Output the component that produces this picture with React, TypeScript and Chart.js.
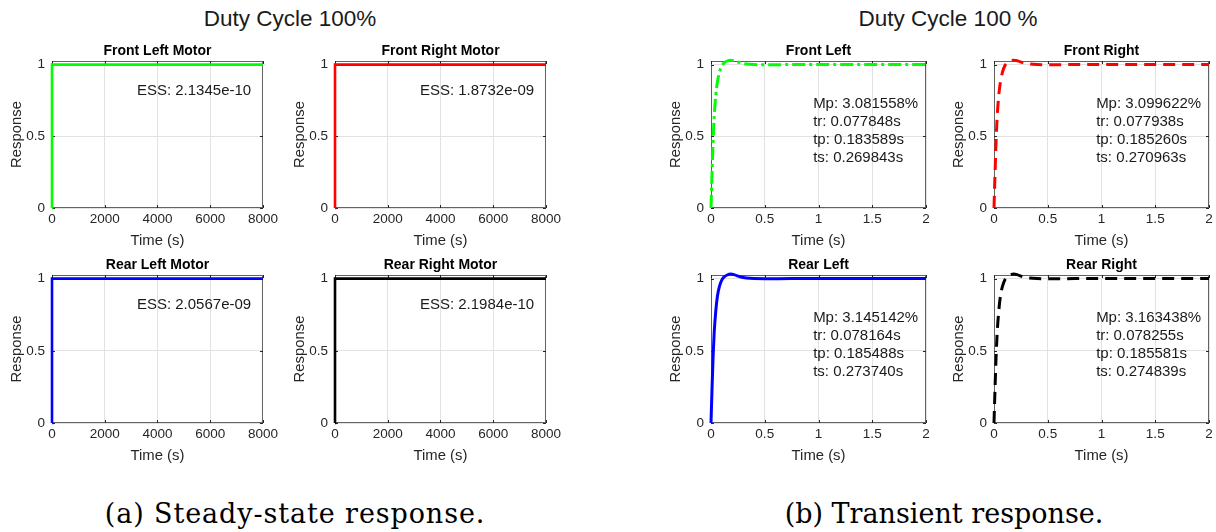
import React, { useEffect, useRef } from "react";
import { Chart, registerables } from "chart.js";
Chart.register(...registerables);

// ---------- data ----------
const steadyTime = [0, 0.3, 8000];
const steadyFrontLeft = [0, 1, 1];
const steadyFrontRight = [0, 1, 1];
const steadyRearLeft = [0, 1, 1];
const steadyRearRight = [0, 1, 1];

const transientTime = [0, 0.01, 0.02, 0.03, 0.045, 0.06, 0.08, 0.1, 0.12, 0.15, 0.185, 0.22, 0.27, 0.33, 0.4, 0.5, 0.75, 1, 1.5, 2];
const transientFrontLeft = [0, 0.25, 0.48, 0.64, 0.79, 0.88, 0.95, 0.99, 1.01, 1.025, 1.031, 1.026, 1.013, 1.004, 1.0, 0.999, 1.0, 1.0, 1.0, 1.0];
const transientFrontRight = [0, 0.25, 0.48, 0.64, 0.79, 0.88, 0.95, 0.99, 1.01, 1.025, 1.031, 1.026, 1.013, 1.004, 1.0, 0.999, 1.0, 1.0, 1.0, 1.0];
const transientRearLeft = [0, 0.25, 0.47, 0.63, 0.78, 0.88, 0.95, 0.99, 1.01, 1.025, 1.0315, 1.026, 1.013, 1.004, 1.0, 0.999, 1.0, 1.0, 1.0, 1.0];
const transientRearRight = [0, 0.25, 0.47, 0.63, 0.78, 0.88, 0.95, 0.99, 1.01, 1.025, 1.0316, 1.026, 1.013, 1.004, 1.0, 0.999, 1.0, 1.0, 1.0, 1.0];

const steadyTicksX = [0, 2000, 4000, 6000, 8000];
const transientTicksX = [0, 0.5, 1, 1.5, 2];
const responseTicksY = [0, 0.5, 1];

const steadyTitles = ["Front Left Motor", "Front Right Motor", "Rear Left Motor", "Rear Right Motor"];
const transientTitles = ["Front Left", "Front Right", "Rear Left", "Rear Right"];
const essLabels = ["ESS: 2.1345e-10", "ESS: 1.8732e-09", "ESS: 2.0567e-09", "ESS: 2.1984e-10"];
const mpLabels = ["Mp: 3.081558%", "Mp: 3.099622%", "Mp: 3.145142%", "Mp: 3.163438%"];
const trLabels = ["tr: 0.077848s", "tr: 0.077938s", "tr: 0.078164s", "tr: 0.078255s"];
const tpLabels = ["tp: 0.183589s", "tp: 0.185260s", "tp: 0.185488s", "tp: 0.185581s"];
const tsLabels = ["ts: 0.269843s", "ts: 0.270963s", "ts: 0.273740s", "ts: 0.274839s"];

// ---------- styling ----------
const FONT = "'Liberation Sans', Arial, sans-serif";
const GRID = "#e2e2e2";
const BOX = "#626262";
const TEXT = "#262626";
const Y_MAX = 1.025;
const PAD_TOP = 30;
const PAD_RIGHT = 18;
const Y_AXIS_W = 52;
const X_AXIS_H = 42;
const TICK_SIZE = 13.5;
const LABEL_SIZE = 14.85;

type PlotCfg = {
  left: number;
  top: number;
  w: number;
  h: number;
  title: string;
  time: number[];
  values: number[];
  color: string;
  dash: number[];
  width: number;
  smooth: boolean;
  xMax: number;
  xTicks: number[];
  textX: number;
  textY: number;
  lines: string[];
};

const decorPlugin = {
  id: "decor",
  beforeDatasetsDraw(chart: any) {
    const { ctx, chartArea: a, scales } = chart;
    ctx.save();
    ctx.strokeStyle = BOX;
    ctx.lineWidth = 1;
    ctx.strokeRect(a.left + 0.5, a.top + 0.5, a.right - a.left - 1, a.bottom - a.top - 1);
    ctx.strokeStyle = TEXT;
    const tl = 3;
    scales.x.ticks.forEach((t: any) => {
      const px = Math.round(scales.x.getPixelForValue(t.value)) + 0.5;
      ctx.beginPath();
      ctx.moveTo(px, a.bottom);
      ctx.lineTo(px, a.bottom - tl);
      ctx.moveTo(px, a.top);
      ctx.lineTo(px, a.top + tl);
      ctx.stroke();
    });
    scales.y.ticks.forEach((t: any) => {
      const py = Math.round(scales.y.getPixelForValue(t.value)) + 0.5;
      ctx.beginPath();
      ctx.moveTo(a.left, py);
      ctx.lineTo(a.left + tl, py);
      ctx.moveTo(a.right, py);
      ctx.lineTo(a.right - tl, py);
      ctx.stroke();
    });
    ctx.restore();
  },
  afterDraw(chart: any, _args: any, opts: any) {
    const { ctx, chartArea: a, scales } = chart;
    ctx.save();
    ctx.fillStyle = "#000";
    ctx.font = `bold 14px ${FONT}`;
    ctx.textAlign = "center";
    ctx.textBaseline = "middle";
    ctx.fillText(opts.title, (a.left + a.right) / 2, a.top - 9.5);
    ctx.font = `15px ${FONT}`;
    ctx.fillStyle = "#1a1a1a";
    ctx.textAlign = "left";
    const lines: string[] = opts.lines;
    const lh = 18;
    const x0 = scales.x.getPixelForValue(opts.textX);
    const yc = scales.y.getPixelForValue(opts.textY);
    const startY = yc - ((lines.length - 1) * lh) / 2;
    lines.forEach((s, i) => ctx.fillText(s, x0, startY + i * lh));
    ctx.restore();
  },
};

function SubPlot({ cfg }: { cfg: PlotCfg }) {
  const ref = useRef<HTMLCanvasElement>(null);
  const cw = Y_AXIS_W + cfg.w + PAD_RIGHT;
  const ch = PAD_TOP + cfg.h + X_AXIS_H;
  useEffect(() => {
    if (!ref.current) return;
    const chart = new Chart(ref.current, {
      type: "line",
      data: {
        datasets: [
          {
            data: cfg.time.map((x, i) => ({ x, y: cfg.values[i] })),
            borderColor: cfg.color,
            borderWidth: cfg.width,
            borderDash: cfg.dash,
            pointRadius: 0,
            fill: false,
            clip: false as any,
            cubicInterpolationMode: cfg.smooth ? "monotone" : "default",
            tension: 0,
          },
        ],
      },
      options: {
        responsive: false,
        animation: false,
        devicePixelRatio: 1,
        layout: { padding: { top: PAD_TOP, right: PAD_RIGHT, left: 0, bottom: 0 } },
        plugins: {
          legend: { display: false },
          tooltip: { enabled: false },
          decor: { title: cfg.title, lines: cfg.lines, textX: cfg.textX, textY: cfg.textY },
        } as any,
        scales: {
          x: {
            type: "linear",
            min: 0,
            max: cfg.xMax,
            afterBuildTicks: (s: any) => {
              s.ticks = cfg.xTicks.map((v) => ({ value: v }));
            },
            afterFit: (s: any) => {
              s.height = X_AXIS_H;
            },
            grid: { color: GRID, drawTicks: false, lineWidth: 1 },
            border: { display: false },
            ticks: {
              padding: 3,
              color: TEXT,
              font: { size: TICK_SIZE, family: FONT },
              maxRotation: 0,
              autoSkip: false,
              callback: (v: any) => String(v),
            },
            title: {
              display: true,
              text: "Time (s)",
              color: TEXT,
              font: { size: LABEL_SIZE, family: FONT },
              padding: { top: 0, bottom: 0 },
            },
          },
          y: {
            type: "linear",
            min: 0,
            max: Y_MAX,
            afterBuildTicks: (s: any) => {
              s.ticks = responseTicksY.map((v) => ({ value: v }));
            },
            afterFit: (s: any) => {
              s.width = Y_AXIS_W;
            },
            grid: { color: GRID, drawTicks: false, lineWidth: 1 },
            border: { display: false },
            ticks: {
              padding: 7,
              color: TEXT,
              font: { size: TICK_SIZE, family: FONT },
              callback: (v: any) => String(v),
            },
            title: {
              display: true,
              text: "Response",
              color: TEXT,
              font: { size: LABEL_SIZE, family: FONT },
              padding: { top: 8, bottom: 0 },
            },
          },
        },
      },
      plugins: [decorPlugin],
    } as any);
    return () => chart.destroy();
  }, []);
  return (
    <canvas
      ref={ref}
      width={cw}
      height={ch}
      style={{
        position: "absolute",
        left: cfg.left - Y_AXIS_W,
        top: cfg.top - PAD_TOP,
        width: cw,
        height: ch,
      }}
    />
  );
}

const steadyCols = [52, 335];
const transientCols = [711, 994];
const rowTops = [61, 275];
const rowHeights = [147, 148];

const steadySeries = [steadyFrontLeft, steadyFrontRight, steadyRearLeft, steadyRearRight];
const transientSeries = [transientFrontLeft, transientFrontRight, transientRearLeft, transientRearRight];
const colors = ["#00ff00", "#ff0000", "#0000ff", "#000000"];
const dashes = [[13, 4, 3, 4], [12, 7], [], [12, 7]];

const plots: PlotCfg[] = [];
for (let i = 0; i < 4; i++) {
  const r = Math.floor(i / 2);
  const c = i % 2;
  plots.push({
    left: steadyCols[c],
    top: rowTops[r],
    w: 211,
    h: rowHeights[r],
    title: steadyTitles[i],
    time: steadyTime,
    values: steadySeries[i],
    color: colors[i],
    dash: [],
    width: 2.6,
    smooth: false,
    xMax: 8000,
    xTicks: steadyTicksX,
    textX: 3220,
    textY: 0.815,
    lines: [essLabels[i]],
  });
  plots.push({
    left: transientCols[c],
    top: rowTops[r],
    w: 215,
    h: rowHeights[r],
    title: transientTitles[i],
    time: transientTime,
    values: transientSeries[i],
    color: colors[i],
    dash: dashes[i],
    width: 3,
    smooth: true,
    xMax: 2,
    xTicks: transientTicksX,
    textX: 0.95,
    textY: 0.54,
    lines: [mpLabels[i], trLabels[i], tpLabels[i], tsLabels[i]],
  });
}

function Label({ x, y, text, style }: { x: number; y: number; text: string; style: React.CSSProperties }) {
  return (
    <div
      style={{
        position: "absolute",
        left: x,
        top: y,
        transform: "translate(-50%, -50%)",
        whiteSpace: "nowrap",
        lineHeight: 1,
        ...style,
      }}
    >
      {text}
    </div>
  );
}

export default function App() {
  const titleStyle: React.CSSProperties = { fontFamily: FONT, fontSize: 22.5, color: "#1a1a1a" };
  const captionStyle: React.CSSProperties = { fontFamily: "'DejaVu Serif', serif", fontSize: 27, color: "#000" };
  return (
    <div
      style={{
        position: "fixed",
        left: 0,
        top: 0,
        width: 1216,
        height: 532,
        background: "#fff",
        overflow: "hidden",
      }}
    >
      <Label x={290} y={19} text="Duty Cycle 100%" style={titleStyle} />
      <Label x={948} y={19} text="Duty Cycle 100 %" style={titleStyle} />
      {plots.map((p, i) => (
        <SubPlot key={i} cfg={p} />
      ))}
      <Label x={295} y={513} text="(a) Steady-state response." style={{ ...captionStyle, letterSpacing: 0.9 }} />
      <Label x={944} y={513} text="(b) Transient response." style={captionStyle} />
    </div>
  );
}
